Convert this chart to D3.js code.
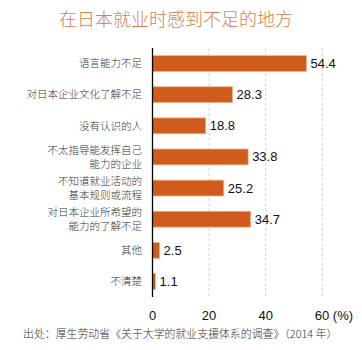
<!DOCTYPE html>
<html><head><meta charset="utf-8">
<script src="https://cdn.jsdelivr.net/npm/d3@7"></script>
<style>
body{margin:0;background:#fff;}
svg{display:block;}
</style></head>
<body><svg id="c" width="362" height="350"></svg>
<script>
const categories = [
  ["语言能力不足"],
  ["对日本企业文化了解不足"],
  ["没有认识的人"],
  ["不太指导能发挥自己", "能力的企业"],
  ["不知道就业活动的", "基本规则或流程"],
  ["对日本企业所希望的", "能力的了解不足"],
  ["其他"],
  ["不清楚"]
];
const values = [54.4, 28.3, 18.8, 33.8, 25.2, 34.7, 2.5, 1.1];
const tickValues = [0, 20, 40, 60];
const tickLabels = ["0", "20", "40", "60 (%)"];
const title = "在日本就业时感到不足的地方";
const source = "出处：厚生劳动省《关于大学的就业支援体系的调查》（2014 年）";

const svg = d3.select("#c");
const cjk = "'Noto Sans CJK SC', sans-serif";
const pLeft = 152.5, pRight = 322.3, pTop = 48, pBottom = 297;

const x = d3.scaleLinear().domain([0, 60]).range([pLeft, pRight]);
const y = d3.scaleBand().domain(d3.range(categories.length)).range([pTop, pBottom]).paddingInner(0.49).paddingOuter(0.245);

svg.append("text").attr("x", 176).attr("y", 26).attr("text-anchor", "middle")
  .attr("font-family", cjk).attr("font-size", 18).attr("font-weight", 300).attr("fill", "#d6804f").text(title);

// grid
svg.append("g").selectAll("line").data(tickValues.slice(1)).join("line")
  .attr("x1", d => x(d)).attr("x2", d => x(d)).attr("y1", pTop).attr("y2", pBottom)
  .attr("stroke", "#c8c8c8").attr("stroke-width", 0.8).attr("stroke-dasharray", "3,2");

// bars
svg.append("g").selectAll("rect").data(values).join("rect")
  .attr("x", x(0)).attr("y", (d, i) => y(i)).attr("width", d => x(d) - x(0)).attr("height", y.bandwidth())
  .attr("fill", "#cf5b1c").attr("stroke", "#f2b48c").attr("stroke-width", 0.8);

// value labels
svg.append("g").selectAll("text").data(values).join("text")
  .attr("x", d => x(d) + 4).attr("y", (d, i) => y(i) + y.bandwidth() / 2 + 4.5)
  .attr("font-family", "'Liberation Sans', Arial, sans-serif").attr("font-size", 13).attr("fill", "#111")
  .text(d => d.toFixed(1));

// axis line
svg.append("line").attr("x1", pLeft).attr("x2", pLeft).attr("y1", pTop).attr("y2", pBottom)
  .attr("stroke", "#000").attr("stroke-width", 1.3);

// category labels
const cl = svg.append("g");
categories.forEach((lines, i) => {
  const cy = y(i) + y.bandwidth() / 2;
  const n = lines.length;
  const lh = 14;
  lines.forEach((t, j) => {
    cl.append("text").attr("x", 142).attr("y", cy + (j - (n - 1) / 2) * lh + 3.8)
      .attr("text-anchor", "end").attr("font-family", cjk).attr("font-size", 10.5).attr("font-weight", 300)
      .attr("fill", "#333").text(t);
  });
});

// x tick labels
svg.append("g").selectAll("text").data(tickValues).join("text")
  .attr("x", d => x(d)).attr("y", 320)
  .attr("text-anchor", (d, i) => i === tickValues.length - 1 ? "start" : "middle")
  .attr("dx", (d, i) => i === tickValues.length - 1 ? -7.5 : 0)
  .attr("font-family", "'Liberation Sans', Arial, sans-serif").attr("font-size", 13).attr("fill", "#111")
  .text((d, i) => tickLabels[i]);

svg.append("text").attr("x", 23).attr("y", 338)
  .attr("font-family", cjk).attr("font-size", 10.9).attr("font-weight", 300).attr("fill", "#333").text(source);
</script></body></html>
